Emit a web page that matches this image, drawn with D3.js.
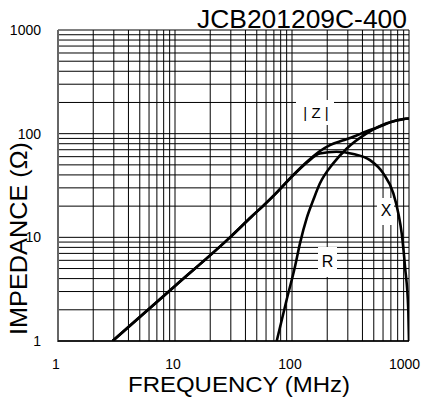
<!DOCTYPE html>
<html><head><meta charset="utf-8">
<script src="https://cdn.jsdelivr.net/npm/d3@7"></script>
<style>body{margin:0;background:#fff}svg{display:block}</style>
</head><body><svg id="c" width="425" height="401"></svg>
<script>
const titleText = "JCB201209C-400";
const xTitle = "FREQUENCY (MHz)";
const yTitle = "IMPEDANCE (\u03A9)";
const xTicks = [1, 10, 100, 1000];
const yTicks = [1, 10, 100, 1000];
// |Z|
const zFreq = [2.93, 10, 29.5, 45, 60, 75, 100, 135, 170, 211, 270, 334, 430, 530, 785, 1000];
const zVal  = [1, 3.4, 10, 15.8, 21.4, 27.5, 38.9, 54, 67, 77.6, 86, 93.3, 105, 114, 135, 140];
// X
const xFreq = [2.93, 10, 29.5, 45, 60, 75, 100, 135, 173, 240, 334, 464, 603, 735, 811, 866, 925, 986, 1000];
const xVal  = [1, 3.4, 10, 15.8, 21.4, 27.5, 38.5, 53, 64.5, 67, 63.6, 55.6, 41.4, 26.6, 17, 10.9, 5.2, 2, 1];
// R
const rFreq = [74, 90, 106, 117, 134, 152, 173, 225, 294, 435, 644, 894, 1000];
const rVal  = [1, 2.5, 5.2, 8.75, 15.5, 22.9, 33, 51.7, 72, 100.7, 126, 138, 140];
const labels = ["| Z |", "X", "R"];

const L = 58, R = 409, T = 30, B = 341;
const svg = d3.select("#c");
const x = d3.scaleLog().domain([1, 1000]).range([L, R]);
const y = d3.scaleLog().domain([1, 1000]).range([B, T]);
const font = "'Liberation Sans', Arial, sans-serif";

// grid
const minor = [];
[1, 10, 100].forEach(d => { for (let m = 1; m <= 9; m++) minor.push(d * m); });
minor.push(1000);
const g = svg.append("g");
g.selectAll(".vx").data(minor).enter().append("line")
  .attr("x1", d => x(d)).attr("x2", d => x(d)).attr("y1", T).attr("y2", B)
  .attr("stroke", "#000").attr("stroke-width", 1);
g.selectAll(".hy").data(minor).enter().append("line")
  .attr("y1", d => y(d)).attr("y2", d => y(d)).attr("x1", L).attr("x2", R)
  .attr("stroke", "#000").attr("stroke-width", 1);
// axes frame
svg.append("line").attr("x1", L).attr("x2", L).attr("y1", T).attr("y2", B + 1)
  .attr("stroke", "#666").attr("stroke-width", 2);
svg.append("line").attr("x1", L).attr("x2", R).attr("y1", B).attr("y2", B)
  .attr("stroke", "#000").attr("stroke-width", 1.6);

// label boxes
const boxes = [
  {t: labels[0], bx: [296, 334], by: [100, 125], cx: 316, base: 118, fs: 15},
  {t: labels[1], bx: [377, 394], by: [198, 225], cx: 386, base: 215.5, fs: 16},
  {t: labels[2], bx: [318, 337], by: [247, 277], cx: 327.5, base: 267, fs: 16}
];
svg.selectAll(".lb").data(boxes).enter().append("rect")
  .attr("x", d => d.bx[0]).attr("y", d => d.by[0])
  .attr("width", d => d.bx[1] - d.bx[0]).attr("height", d => d.by[1] - d.by[0])
  .attr("fill", "#fff");

// curves
svg.append("clipPath").attr("id", "clip").append("rect")
  .attr("x", L).attr("y", T).attr("width", R - L).attr("height", B - T);
const line = d3.line().x(d => x(d[0])).y(d => y(d[1])).curve(d3.curveMonotoneX);
const series = [
  d3.zip(zFreq, zVal), d3.zip(xFreq, xVal), d3.zip(rFreq, rVal)
];
svg.append("g").attr("clip-path", "url(#clip)").selectAll("path").data(series).enter()
  .append("path").attr("d", line).attr("fill", "none")
  .attr("stroke", "#000").attr("stroke-width", 2.6).attr("stroke-linejoin", "round");

svg.selectAll(".lt").data(boxes).enter().append("text")
  .attr("x", d => d.cx).attr("y", d => d.base).attr("text-anchor", "middle")
  .attr("font-family", font).attr("font-size", d => d.fs).attr("fill", "#000")
  .text(d => d.t);

// tick labels
svg.selectAll(".yt").data(yTicks).enter().append("text")
  .attr("x", 41).attr("y", d => y(d) + 5).attr("text-anchor", "end")
  .attr("font-family", font).attr("font-size", 14).text(d => d);
svg.selectAll(".xt").data(xTicks).enter().append("text")
  .attr("x", d => Math.min(x(d) - 2, 404.5)).attr("y", 369).attr("text-anchor", "middle")
  .attr("font-family", font).attr("font-size", 14).text(d => d);

// titles
svg.append("text").attr("x", 197).attr("y", 28).attr("font-family", font)
  .attr("font-size", 25).attr("textLength", 210).attr("lengthAdjust", "spacingAndGlyphs")
  .text(titleText);
svg.append("text").attr("x", 128).attr("y", 391.5).attr("font-family", font)
  .attr("font-size", 22.5).attr("textLength", 222).attr("lengthAdjust", "spacingAndGlyphs")
  .text(xTitle);
svg.append("text").attr("transform", "translate(27,335) rotate(-90)")
  .attr("font-family", font).attr("font-size", 24)
  .attr("textLength", 193).attr("lengthAdjust", "spacingAndGlyphs")
  .text(yTitle);
</script></body></html>
